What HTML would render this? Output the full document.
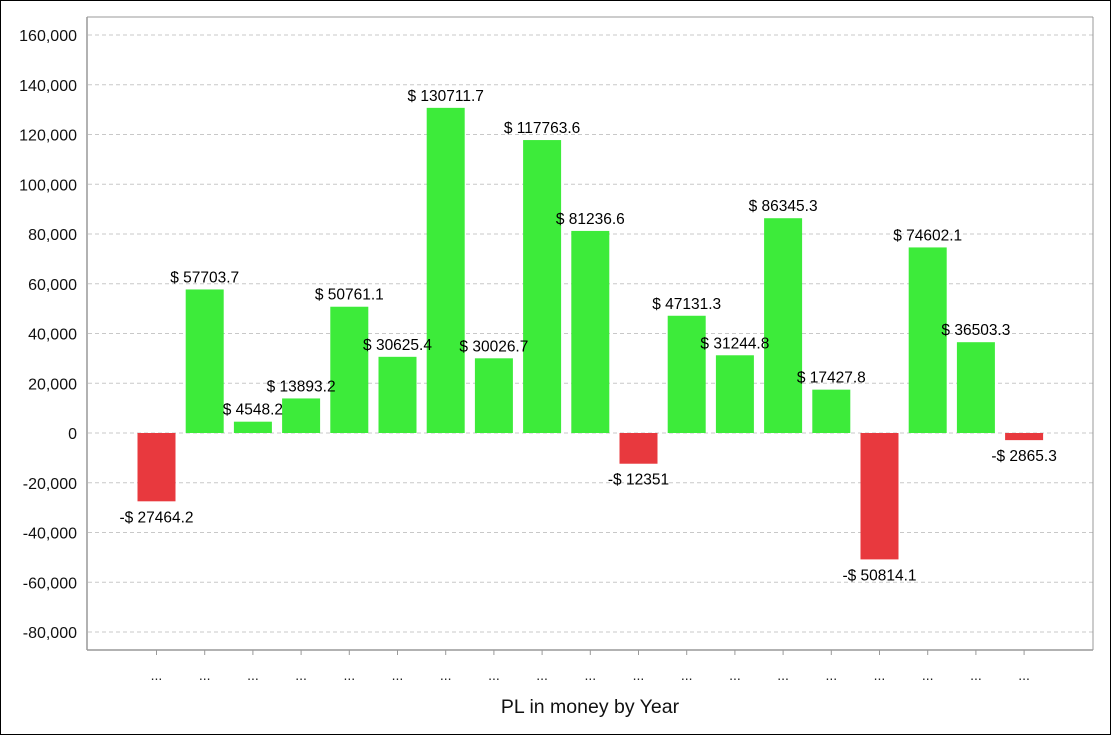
<!DOCTYPE html>
<html><head><meta charset="utf-8"><style>
body{margin:0;background:#fff}
svg{display:block;font-family:"Liberation Sans",Arial,sans-serif}
</style></head><body>
<svg width="1111" height="735" xmlns="http://www.w3.org/2000/svg">
<rect x="0.5" y="0.5" width="1110" height="734" fill="#fff" stroke="#000"/>
<g id="grid" stroke="#c8c8c8" stroke-dasharray="4,3" stroke-width="1"></g>
<g id="bars"></g>
<g id="labels" font-size="15.5" fill="#000" text-anchor="middle"></g>
<g id="yl" font-size="16" fill="#111" text-anchor="end"></g>
<line x1="87" y1="17" x2="1093" y2="17" stroke="#999"/>
<line x1="1093" y1="17" x2="1093" y2="650" stroke="#999"/>
<line x1="87" y1="17" x2="87" y2="650" stroke="#999" stroke-width="1.5"/>
<line x1="87" y1="650" x2="1093" y2="650" stroke="#999" stroke-width="1.5"/>
<g id="ticks" stroke="#999"></g>
<g id="xl" font-size="14" fill="#222" text-anchor="middle"></g>
<text x="590" y="713" font-size="19.5" fill="#111" text-anchor="middle">PL in money by Year</text>
</svg>
<script>
var ns="http://www.w3.org/2000/svg";
function el(p,t,a,txt){var e=document.createElementNS(ns,t);for(var k in a)e.setAttribute(k,a[k]);if(txt!=null)e.textContent=txt;document.getElementById(p).appendChild(e);}
function Y(v){return 433-v*0.0024875;}
for(var v=-80000;v<=160000;v+=20000){var y=Y(v);el('grid','line',{x1:88,x2:1093,y1:y,y2:y});
el('yl','text',{x:77,y:y+6},v==0?'0':v.toLocaleString('en-US'));}
var d=[-27464.2,57703.7,4548.2,13893.2,50761.1,30625.4,130711.7,30026.7,117763.6,81236.6,-12351,47131.3,31244.8,86345.3,17427.8,-50814.1,74602.1,36503.3,-2865.3];
d.forEach(function(v,i){var c=156.5+i*48.2;var y0=Y(0),y1=Y(v);
el('bars','rect',{x:c-19,y:Math.min(y0,y1),width:38,height:Math.abs(y1-y0),fill:v<0?'#e8393e':'#3deb3a'});
var s=(v<0?'-$ ':'$ ')+Math.abs(v);
el('labels','text',{x:c,y:v<0?y1+21:y1-7},s);
el('ticks','line',{x1:c,x2:c,y1:650,y2:655});
el('xl','text',{x:c,y:680},'...');});
</script>
</body></html>
